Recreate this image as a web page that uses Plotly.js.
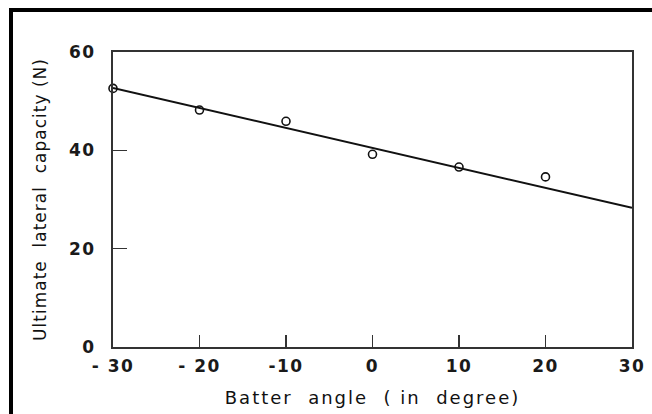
<!DOCTYPE html>
<html>
<head>
<meta charset="utf-8">
<script src="https://cdn.plot.ly/plotly-3.0.1.min.js"></script>
<style>
  html, body { margin: 0; padding: 0; background: #fff; }
  #wrap { position: relative; width: 652px; height: 414px; overflow: hidden; }
  #chart { position: absolute; left: 0; top: 0; width: 652px; height: 414px; }
  #frame { position: absolute; left: 9px; top: 8px; right: -10px; bottom: -10px;
           border-top: 4px solid #000; border-left: 4px solid #000; pointer-events: none; }
  .xtick text, .ytick text { letter-spacing: 1.5px; }
  .g-xtitle text { letter-spacing: 2px; }
  .g-ytitle text { letter-spacing: 1px; }
</style>
</head>
<body>
<div id="wrap">
  <div id="chart"></div>
  <div id="frame"></div>
</div>
<script>
// Measured data points (open circles)
const batterAngle = [-30, -20, -10, 0, 10, 20];
const lateralCapacity = [52.6, 48.2, 45.9, 39.2, 36.6, 34.6];

// Fitted straight line, end points
const fitAngle = [-30, 30];
const fitCapacity = [52.7, 28.3];

// Tick labels
const xTickVals = [-30, -20, -10, 0, 10, 20, 30];
const xTickText = ['- 30', '- 20', '-10', '0', '10', '20', '30'];
const yTickVals = [0, 20, 40, 60];
const yTickText = ['0', '20', '40', '60'];

const fontFam = '"DejaVu Sans", "Liberation Sans", sans-serif';

const traces = [
  {
    x: fitAngle, y: fitCapacity, type: 'scatter', mode: 'lines',
    line: { color: '#111', width: 2 }, hoverinfo: 'skip', showlegend: false,
    cliponaxis: false
  },
  {
    x: batterAngle, y: lateralCapacity, type: 'scatter', mode: 'markers',
    marker: { symbol: 'circle-open', size: 8, color: '#111', line: { width: 1.6, color: '#111' } },
    showlegend: false, cliponaxis: false
  }
];

const layout = {
  width: 652, height: 414,
  margin: { l: 113, r: 20, t: 52, b: 67 },
  paper_bgcolor: '#fff', plot_bgcolor: '#fff',
  showlegend: false,
  font: { family: fontFam, color: '#222', size: 16 },
  xaxis: {
    range: [-30, 30], tickvals: xTickVals, ticktext: xTickText,
    ticks: 'inside', ticklen: 12, tickwidth: 1.5, tickcolor: '#333',
    showline: true, linecolor: '#333', linewidth: 2, mirror: true,
    showgrid: false, zeroline: false,
    tickfont: { family: fontFam, size: 17, color: '#1a1a1a', weight: 'bold' },
    ticklabelstandoff: 3,
    title: { text: 'Batter  angle  ( in  degree)', font: { family: fontFam, size: 18, color: '#111' }, standoff: 16 }
  },
  yaxis: {
    range: [0, 60], tickvals: yTickVals, ticktext: yTickText,
    ticks: 'inside', ticklen: 14, tickwidth: 1.5, tickcolor: '#333',
    showline: true, linecolor: '#333', linewidth: 2, mirror: true,
    showgrid: false, zeroline: false,
    tickfont: { family: fontFam, size: 17, color: '#1a1a1a', weight: 'bold' },
    ticklabelstandoff: 12,
    title: { text: 'Ultimate  lateral  capacity (N)', font: { family: fontFam, size: 17, color: '#111' }, standoff: 18 }
  }
};

Plotly.newPlot('chart', traces, layout, { displayModeBar: false, staticPlot: true });
</script>
</body>
</html>
